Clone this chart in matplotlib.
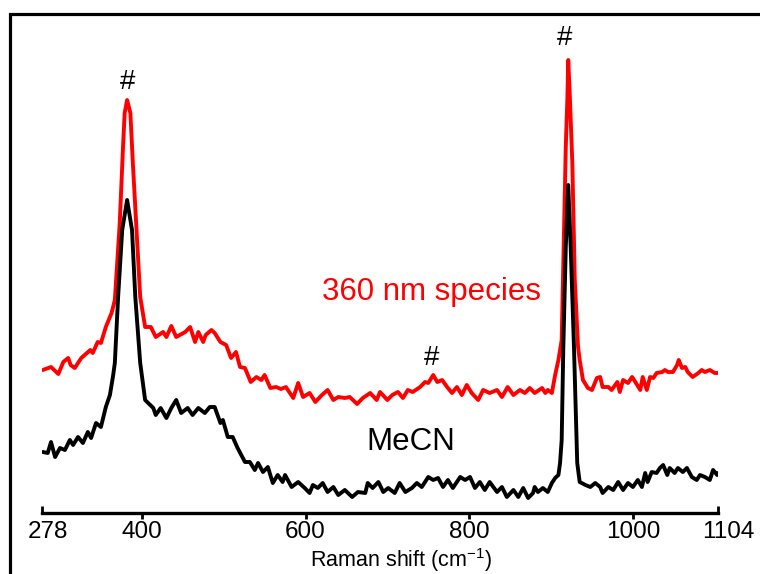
import matplotlib
matplotlib.use("Agg")
import matplotlib.pyplot as plt
import matplotlib.transforms as mtransforms
from matplotlib.patches import Rectangle
from matplotlib.ticker import FixedLocator, FixedFormatter

plt.rcParams['font.family'] = ['Liberation Sans', 'DejaVu Sans']
plt.rcParams['mathtext.fontset'] = 'custom'
plt.rcParams['mathtext.rm'] = 'Liberation Sans'
plt.rcParams['mathtext.it'] = 'Liberation Sans:italic'
plt.rcParams['mathtext.bf'] = 'Liberation Sans:bold'

# ---- data (Raman shift in cm-1, intensity in arbitrary units incl. offset) ----
red_shift = [279, 289, 298, 304, 310, 313, 318, 326, 337, 340, 346, 350, 356, 363, 367,
             373, 377, 379, 382, 386, 389, 394, 398, 404, 411, 417, 426, 430, 436, 442,
             453, 459, 465, 469, 475, 478, 485, 489, 496, 503, 509, 515, 520, 526, 533,
             540, 546, 550, 557, 564, 570, 576, 585, 591, 597, 605, 612, 620, 627, 634,
             640, 648, 654, 663, 670, 679, 687, 691, 700, 706, 713, 719, 725, 731, 740,
             746, 750, 756, 761, 767, 773, 779, 785, 791, 797, 803, 811, 817, 825, 834,
             840, 847, 854, 862, 868, 874, 880, 889, 893, 896, 901, 905, 909, 913, 915,
             918, 920, 921, 923, 926, 929, 933, 935, 939, 945, 950, 956, 960, 963, 970,
             974, 981, 984, 988, 994, 999, 1003, 1009, 1012, 1017, 1021, 1025, 1029, 1036, 1039,
             1043, 1049, 1054, 1056, 1060, 1064, 1067, 1073, 1080, 1084, 1088, 1094, 1100, 1104]
red_int = [143, 146, 139, 151, 155, 148, 145, 155, 163, 160, 171, 170, 186, 200, 213,
           290, 366, 400, 413, 400, 350, 276, 216, 186, 186, 176, 181, 176, 187, 176,
           181, 186, 171, 181, 171, 178, 183, 180, 171, 168, 155, 161, 146, 145, 131,
           136, 133, 138, 125, 126, 124, 126, 115, 130, 116, 120, 111, 118, 123, 113,
           116, 115, 116, 109, 115, 120, 113, 121, 113, 118, 121, 115, 123, 121, 126,
           131, 130, 138, 131, 133, 126, 120, 126, 118, 128, 120, 113, 123, 120, 123,
           116, 126, 118, 123, 120, 125, 120, 125, 120, 123, 120, 138, 153, 173, 250,
           366, 416, 453, 416, 350, 233, 166, 153, 133, 125, 123, 135, 136, 126, 126,
           123, 131, 121, 133, 130, 136, 131, 123, 136, 123, 136, 135, 140, 141, 143,
           141, 141, 148, 153, 145, 146, 141, 136, 140, 143, 141, 143, 140, 140]

black_shift = [279, 285, 289, 294, 300, 306, 312, 316, 322, 328, 334, 338, 344, 350, 356,
               361, 365, 367, 371, 376, 382, 388, 392, 398, 404, 414, 417, 423, 430, 436,
               442, 448, 456, 462, 469, 477, 483, 489, 496, 499, 505, 511, 517, 526, 532,
               538, 542, 548, 554, 560, 566, 572, 575, 583, 591, 599, 605, 609, 615, 621,
               627, 634, 640, 648, 657, 664, 673, 676, 682, 689, 695, 701, 709, 715, 722,
               730, 736, 742, 750, 756, 762, 768, 774, 780, 789, 795, 801, 807, 813, 819,
               825, 834, 840, 846, 854, 860, 866, 872, 878, 880, 884, 890, 896, 901, 905,
               909, 911, 913, 915, 918, 921, 924, 928, 932, 935, 942, 948, 954, 960, 963,
               970, 976, 982, 988, 994, 1000, 1006, 1011, 1015, 1018, 1023, 1029, 1033, 1037, 1042,
               1045, 1051, 1055, 1061, 1066, 1072, 1078, 1082, 1088, 1094, 1098, 1103, 1104]
black_int = [61, 60, 71, 56, 65, 63, 73, 68, 76, 70, 81, 75, 90, 86, 106,
             118, 138, 150, 216, 283, 313, 283, 216, 150, 113, 105, 98, 105, 95, 105,
             113, 100, 105, 98, 105, 100, 106, 106, 90, 93, 76, 76, 65, 51, 51,
             43, 50, 41, 46, 30, 38, 31, 38, 26, 31, 25, 20, 28, 25, 30,
             21, 26, 18, 23, 16, 21, 20, 30, 25, 31, 21, 25, 20, 30, 21,
             25, 30, 26, 36, 33, 35, 26, 33, 25, 36, 33, 36, 25, 31, 23,
             31, 21, 26, 16, 23, 16, 25, 15, 20, 26, 21, 25, 21, 30, 35,
             38, 50, 73, 166, 266, 328, 266, 166, 50, 31, 28, 26, 30, 26, 20,
             26, 23, 31, 23, 30, 26, 33, 26, 40, 31, 41, 40, 45, 48, 38,
             45, 40, 45, 41, 45, 36, 33, 38, 36, 33, 43, 38, 40]

x_min, x_max = 278, 1104
major_ticks = [400, 600, 800, 1000]
end_ticks = [278, 1104]
xlabel = r'Raman shift (cm$^{-1}$)'

# ---- figure ----
W, H = 760, 574
fig = plt.figure(figsize=(W / 100, H / 100), dpi=100)
ax = fig.add_axes([42 / W, 1 - 513 / H, 676 / W, 500 / H])

ax.plot(red_shift, red_int, color='#ff0000', lw=2.8, solid_joinstyle='round',
        solid_capstyle='round')
ax.plot(black_shift, black_int, color='black', lw=2.8, solid_joinstyle='round',
        solid_capstyle='round')

ax.set_xlim(x_min, x_max)
ax.set_ylim(0, 500)

for s in ['top', 'right', 'left']:
    ax.spines[s].set_visible(False)
ax.spines['bottom'].set_linewidth(2.4)
ax.set_yticks([])

ax.xaxis.set_major_locator(FixedLocator(major_ticks))
ax.xaxis.set_major_formatter(FixedFormatter([str(t) for t in major_ticks]))
ax.xaxis.set_minor_locator(FixedLocator(end_ticks))
ax.xaxis.set_minor_formatter(FixedFormatter([str(t) for t in end_ticks]))
ax.tick_params(axis='x', which='major', direction='out', length=4, width=2,
               labelsize=17.5, pad=2)
ax.tick_params(axis='x', which='minor', direction='in', length=5, width=2,
               labelsize=17.5, pad=6)

# shift the end labels slightly to the right, as in the reference
for tick, dx in zip(ax.xaxis.get_minor_ticks(), [6, 10]):
    lab = tick.label1
    lab.set_transform(lab.get_transform() +
                      mtransforms.ScaledTranslation(dx / 100, 0, fig.dpi_scale_trans))

ax.set_xlabel(xlabel, fontsize=15.5, labelpad=0)
ax.xaxis.set_label_coords((401 - 42) / 676, -0.066)

# annotations
ax.text(383, 431, '#', fontsize=20, ha='center', va='center')
ax.text(917, 475, '#', fontsize=20, ha='center', va='center')
ax.text(754, 155, '#', fontsize=20, ha='center', va='center')
ax.text(754, 221, '360 nm species', fontsize=22.5, color='#ff0000', ha='center', va='center')
ax.text(729, 71, 'MeCN', fontsize=22.5, color='black', ha='center', va='center')

# figure frame (extends beyond the right and bottom edges)
fig.patches.append(Rectangle((9.5 / W, -0.1), 1.2, 1.1 - 13.5 / H, transform=fig.transFigure,
                             fill=False, edgecolor='black', lw=2.3, clip_on=False))

fig.savefig('out.png', dpi=100)
